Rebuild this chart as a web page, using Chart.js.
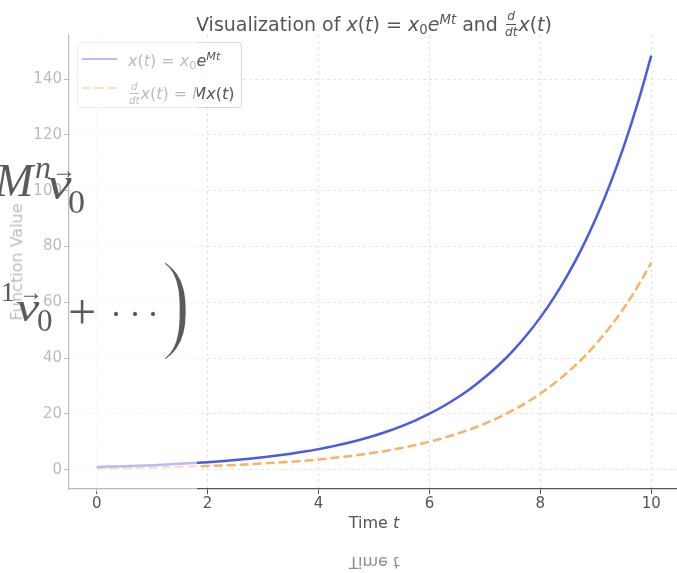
<!DOCTYPE html>
<html><head><meta charset="utf-8">
<script src="https://cdn.jsdelivr.net/npm/chart.js@4/dist/chart.umd.min.js"></script>
<style>
html,body{margin:0;padding:0;background:#fff;}
body{width:677px;height:573px;overflow:hidden;position:relative;font-family:"DejaVu Sans",sans-serif;color:#555;}
#c{position:absolute;left:0;top:0;}
.abs{position:absolute;white-space:nowrap;line-height:1;}
.m{font-style:italic;}
sub,sup{font-size:70%;line-height:0;}
sub{vertical-align:-0.25em;}
sup{vertical-align:0.55em;}
.frac{display:inline-flex;flex-direction:column;align-items:center;font-size:64%;font-style:italic;vertical-align:0.9em;line-height:1.0;margin:0 1px;}
.frac span:first-child{border-bottom:0.8px solid currentColor;padding:0 1px 2px 1px;}
.frac span:last-child{padding-top:1px;}
.big{position:absolute;white-space:nowrap;line-height:1;font-family:"Liberation Serif",serif;color:#5b5b5b;}
</style>
</head><body>
<canvas id="c" width="700" height="573"></canvas>

<div class="abs" style="left:374px;top:10px;transform:translateX(-50%);font-size:19px;">Visualization of <span class="m">x</span>(<span class="m">t</span>) = <span class="m">x</span><sub>0</sub><span class="m">e</span><sup class="m">Mt</sup> and <span class="frac"><span>d</span><span>dt</span></span><span class="m">x</span>(<span class="m">t</span>)</div>

<div class="abs" style="left:374px;top:515px;transform:translateX(-50%);font-size:16px;">Time <span class="m">t</span></div>
<div class="abs" style="left:374px;top:554px;transform:translateX(-50%) scaleY(-1);font-size:16px;color:#8e8e8e;">Time <span class="m">t</span></div>

<div class="abs" style="left:17px;top:262px;transform:translate(-50%,-50%) rotate(-90deg);font-size:16px;">Function Value</div>

<div class="abs" style="left:77px;top:42px;width:163px;height:64px;border:1px solid #d6d6d6;border-radius:4px;background:rgba(255,255,255,0.8);"></div>
<div class="abs" style="left:82px;top:57.5px;width:35px;height:2.5px;background:#4a5ae6;"></div>
<div class="abs" style="left:82px;top:86.5px;width:35px;height:2.5px;background:repeating-linear-gradient(to right,#f7b264 0 9px,transparent 9px 13px);"></div>
<div class="abs" style="left:128px;top:53px;font-size:16px;"><span class="m">x</span>(<span class="m">t</span>) = <span class="m">x</span><sub>0</sub><span class="m">e</span><sup class="m">Mt</sup></div>
<div class="abs" style="left:128px;top:81px;font-size:16px;"><span class="frac"><span>d</span><span>dt</span></span><span class="m">x</span>(<span class="m">t</span>) = <span class="m">Mx</span>(<span class="m">t</span>)</div>

<div class="abs" style="left:0;top:0;width:197px;height:492px;background:rgba(255,255,255,0.6);"></div>

<div class="big" style="left:-5px;top:158px;font-size:46px;font-style:italic;">M</div>
<div class="big" style="left:35px;top:151px;font-size:32px;font-style:italic;">n</div>
<div class="big" style="left:47px;top:161px;font-size:46px;font-style:italic;transform:scaleX(1.2);transform-origin:left top;">v</div>
<div class="big" style="left:52px;top:158px;font-size:24px;">→</div>
<div class="big" style="left:68px;top:185px;font-size:34px;">0</div>

<div class="big" style="left:-15px;top:278px;font-size:28px;">−1</div>
<div class="big" style="left:16px;top:286px;font-size:42px;font-style:italic;transform:scaleX(1.25);transform-origin:left top;">v</div>
<div class="big" style="left:19px;top:280px;font-size:24px;">→</div>
<div class="big" style="left:37px;top:305px;font-size:31px;">0</div>
<div class="big" style="left:68px;top:287px;font-size:50px;">+</div>
<div class="big" style="left:110px;top:296px;font-size:36px;">·</div>
<div class="big" style="left:129px;top:296px;font-size:36px;">·</div>
<div class="big" style="left:147px;top:296px;font-size:36px;">·</div>
<div class="big" style="left:161px;top:244px;font-size:112px;transform:scaleX(0.8);transform-origin:left top;-webkit-text-stroke:3px #fff;">)</div>

<script>
const tValues  = [0, 0.25, 0.5, 0.75, 1, 1.25, 1.5, 1.75, 2, 2.25, 2.5, 2.75, 3, 3.25, 3.5, 3.75, 4, 4.25, 4.5, 4.75, 5,
                  5.25, 5.5, 5.75, 6, 6.25, 6.5, 6.75, 7, 7.25, 7.5, 7.75, 8, 8.25, 8.5, 8.75, 9, 9.25, 9.5, 9.75, 10];
const xValues  = [1.000, 1.133, 1.284, 1.455, 1.649, 1.868, 2.117, 2.399, 2.718, 3.080, 3.490, 3.955, 4.482, 5.078, 5.755, 6.521, 7.389, 8.373, 9.488, 10.75, 12.18,
                  13.80, 15.64, 17.73, 20.09, 22.76, 25.79, 29.22, 33.12, 37.53, 42.52, 48.18, 54.60, 61.87, 70.11, 79.44, 90.02, 102.0, 115.6, 131.0, 148.4];
const dxValues = [0.500, 0.567, 0.642, 0.728, 0.824, 0.934, 1.059, 1.200, 1.359, 1.540, 1.745, 1.978, 2.241, 2.539, 2.878, 3.261, 3.695, 4.187, 4.744, 5.375, 6.091,
                  6.900, 7.820, 8.865, 10.04, 11.38, 12.90, 14.61, 16.56, 18.77, 21.26, 24.09, 27.30, 30.94, 35.06, 39.72, 45.01, 51.00, 57.80, 65.50, 74.21];
const xTicks = [0, 2, 4, 6, 8, 10];
const yTicks = [0, 20, 40, 60, 80, 100, 120, 140];

const tickFont = {family: 'DejaVu Sans', size: 15};
const gridCfg = {color: '#dcdcdc', lineWidth: 0.8, tickColor: '#555', tickLength: 5, tickWidth: 1, tickBorderDash: []};

new Chart(document.getElementById('c'), {
  type: 'line',
  data: {
    datasets: [
      {label: 'x', data: tValues.map((t, i) => ({x: t, y: xValues[i]})), borderColor: '#4a5ae6', borderWidth: 2.5, pointRadius: 0, cubicInterpolationMode: 'monotone', fill: false},
      {label: 'dx', data: tValues.map((t, i) => ({x: t, y: dxValues[i]})), borderColor: '#f7b264', borderWidth: 2.5, borderDash: [9, 4], pointRadius: 0, cubicInterpolationMode: 'monotone', fill: false}
    ]
  },
  options: {
    responsive: false,
    animation: false,
    layout: {padding: {left: 0, top: 35, right: 21, bottom: 0}},
    plugins: {legend: {display: false}, title: {display: false}, tooltip: {enabled: false}},
    scales: {
      x: {
        type: 'linear', min: -0.5, max: 10.5,
        afterBuildTicks: s => { s.ticks = xTicks.map(v => ({value: v})); },
        afterFit: s => { s.height = 84; },
        ticks: {font: tickFont, color: '#555', padding: 1, maxRotation: 0, autoSkip: false},
        grid: gridCfg,
        border: {display: true, color: '#555', width: 1.2, dash: [3, 3]}
      },
      y: {
        type: 'linear', min: -6.9, max: 155.8,
        afterBuildTicks: s => { s.ticks = yTicks.map(v => ({value: v})); },
        afterFit: s => { s.width = 69; },
        ticks: {font: tickFont, color: '#555', padding: 2, autoSkip: false},
        grid: gridCfg,
        border: {display: true, color: '#555', width: 1.2, dash: [3, 3]}
      }
    }
  }
});
</script>
</body></html>
